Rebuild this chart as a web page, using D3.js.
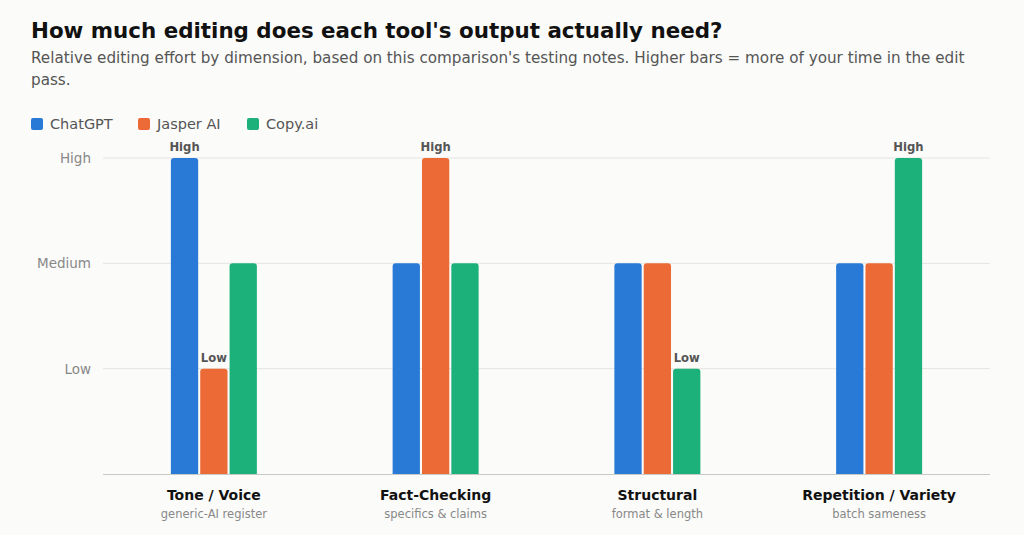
<!DOCTYPE html>
<html><head><meta charset="utf-8">
<script src="https://cdn.jsdelivr.net/npm/d3@7/dist/d3.min.js"></script>
<style>
html,body{margin:0;padding:0;background:#fbfbf9;}
svg{display:block;font-family:"DejaVu Sans",sans-serif;}
</style></head><body>
<svg id="c" width="1024" height="535"></svg>
<script>
const categories = ["Tone / Voice","Fact-Checking","Structural","Repetition / Variety"];
const subLabels = ["generic-AI register","specifics & claims","format & length","batch sameness"];
const series = ["ChatGPT","Jasper AI","Copy.ai"];
const chatgpt = [3,2,2,2];
const jasper = [1,3,2,2];
const copyai = [2,2,1,3];
const levelLabels = ["","Low","Medium","High"];
const colors = ["#2979d6","#ec6a35","#1cb17b"];

(function(){
const values = [chatgpt, jasper, copyai];
const svg = d3.select("#c");
svg.append("rect").attr("width",1024).attr("height",535).attr("fill","#fbfbf9");

svg.append("text").attr("x",31).attr("y",38).attr("font-size",21.4).attr("font-weight","bold").attr("fill","#111")
  .text("How much editing does each tool's output actually need?");
const sub = svg.append("text").attr("x",31).attr("y",63).attr("font-size",15.2).attr("fill","#555");
sub.append("tspan").attr("x",31).attr("y",63).text("Relative editing effort by dimension, based on this comparison's testing notes. Higher bars = more of your time in the edit");
sub.append("tspan").attr("x",31).attr("y",85).text("pass.");

const legX = [31,138,247];
series.forEach((s,i)=>{
  svg.append("rect").attr("x",legX[i]).attr("y",118).attr("width",12).attr("height",12).attr("rx",2).attr("fill",colors[i]);
  svg.append("text").attr("x",legX[i]+19).attr("y",129).attr("font-size",14.5).attr("fill","#555").text(s);
});

const pl=103, pr=990, pt=158, pb=474;
const x0 = d3.scaleBand().domain(categories).range([pl,pr]).padding(0);
const groupW = 86;
const x1 = d3.scaleBand().domain(series).range([0,groupW]).paddingInner(0.07);
const y = d3.scaleLinear().domain([0,3]).range([pb,pt]);

const g = svg.append("g");
[1,2,3].forEach(v=>{
  g.append("line").attr("x1",pl).attr("x2",pr).attr("y1",y(v)).attr("y2",y(v)).attr("stroke","#e4e4e2").attr("stroke-width",1);
  g.append("text").attr("x",91).attr("y",y(v)+5).attr("text-anchor","end").attr("font-size",13.5).attr("fill","#888").text(levelLabels[v]);
});

categories.forEach((c,ci)=>{
  const gx = x0(c) + (x0.bandwidth()-groupW)/2;
  series.forEach((s,si)=>{
    const v = values[si][ci];
    const bx = gx + x1(s), bw = x1.bandwidth(), by = y(v), r=3;
    const p = `M${bx},${pb}V${by+r}Q${bx},${by} ${bx+r},${by}H${bx+bw-r}Q${bx+bw},${by} ${bx+bw},${by+r}V${pb}Z`;
    svg.append("path").attr("d",p).attr("fill",colors[si]);
    if(v!==2){
      svg.append("text").attr("x",bx+bw/2).attr("y",by-7).attr("text-anchor","middle").attr("font-size",11.6).attr("font-weight","bold").attr("fill","#555").text(levelLabels[v]);
    }
  });
  svg.append("text").attr("x",x0(c)+x0.bandwidth()/2).attr("y",500).attr("text-anchor","middle").attr("font-size",14).attr("font-weight","bold").attr("fill","#111").text(c);
  svg.append("text").attr("x",x0(c)+x0.bandwidth()/2).attr("y",518).attr("text-anchor","middle").attr("font-size",11.5).attr("fill","#888").text(subLabels[ci]);
});
svg.append("line").attr("x1",pl).attr("x2",pr).attr("y1",pb+0.5).attr("y2",pb+0.5).attr("stroke","#c8c8c4").attr("stroke-width",1);
})();
</script>
</body></html>
